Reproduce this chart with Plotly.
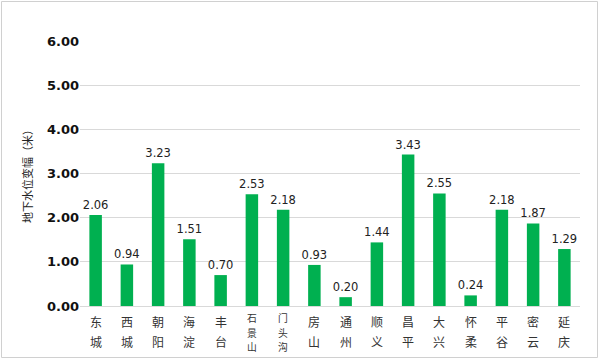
import plotly.graph_objects as go

districts = ["东城", "西城", "朝阳", "海淀", "丰台", "石景山", "门头沟", "房山", "通州",
             "顺义", "昌平", "大兴", "怀柔", "平谷", "密云", "延庆"]
values = [2.06, 0.94, 3.23, 1.51, 0.70, 2.53, 2.18, 0.93, 0.20,
          1.44, 3.43, 2.55, 0.24, 2.18, 1.87, 1.29]
y_ticks = [0, 1, 2, 3, 4, 5, 6]
y_title = "地下水位变幅（米）"

L, R, T, B = 80, 20, 41, 54
PW, PH = 600 - L - R, 360 - T - B

def px_x(p):
    return (p - L) / PW

def px_y(p):
    return (360 - B - p) / PH

fig = go.Figure()
fig.add_trace(go.Bar(
    x=districts, y=values,
    marker=dict(color="#00b050", line=dict(width=0)),
    text=[f"{v:.2f}" for v in values],
    textposition="outside",
    constraintext="none",
    textfont=dict(family="DejaVu Sans", size=11.5, color="#222222"),
    cliponaxis=False,
))

# vertical category labels, one character per line
annotations = []
for d in districts:
    if len(d) == 2:
        ys, size = [321, 341], 12
    else:
        ys, size = [318, 332.5, 347], 9.8
    for ch, yp in zip(d, ys):
        annotations.append(dict(
            x=d, xref="x", y=px_y(yp), yref="paper", text=ch, showarrow=False,
            xanchor="center", yanchor="middle", borderpad=0,
            font=dict(family="Noto Sans CJK SC", size=size, color="#333333"),
        ))

fig.update_layout(
    width=600, height=360,
    margin=dict(l=L, r=R, t=T, b=B),
    paper_bgcolor="white", plot_bgcolor="white",
    bargap=0.6,
    showlegend=False,
    annotations=annotations,
    shapes=[dict(type="rect", xref="paper", yref="paper",
                 x0=px_x(1.5), x1=px_x(597.5), y0=px_y(357.5), y1=px_y(1.5),
                 line=dict(color="#d0d0d0", width=1), layer="above")],
)
fig.update_xaxes(
    showticklabels=False,
    showline=True, linecolor="#d9d9d9", linewidth=1, ticks="",
    automargin=False,
)
fig.update_yaxes(
    range=[0, 6], tickvals=y_ticks, ticktext=[f"{t:.2f}" for t in y_ticks],
    tickfont=dict(family="DejaVu Sans", size=13, color="#111111", weight="bold"),
    gridcolor="#d9d9d9", gridwidth=1, zeroline=False,
    automargin=False,
    title=dict(text=y_title, font=dict(family="Noto Sans CJK SC", size=11, color="#222222"),
               standoff=12),
)
fig.write_html("out.html", config={"displayModeBar": False},
               post_script="document.body.style.margin='0';document.body.style.padding='0';")
